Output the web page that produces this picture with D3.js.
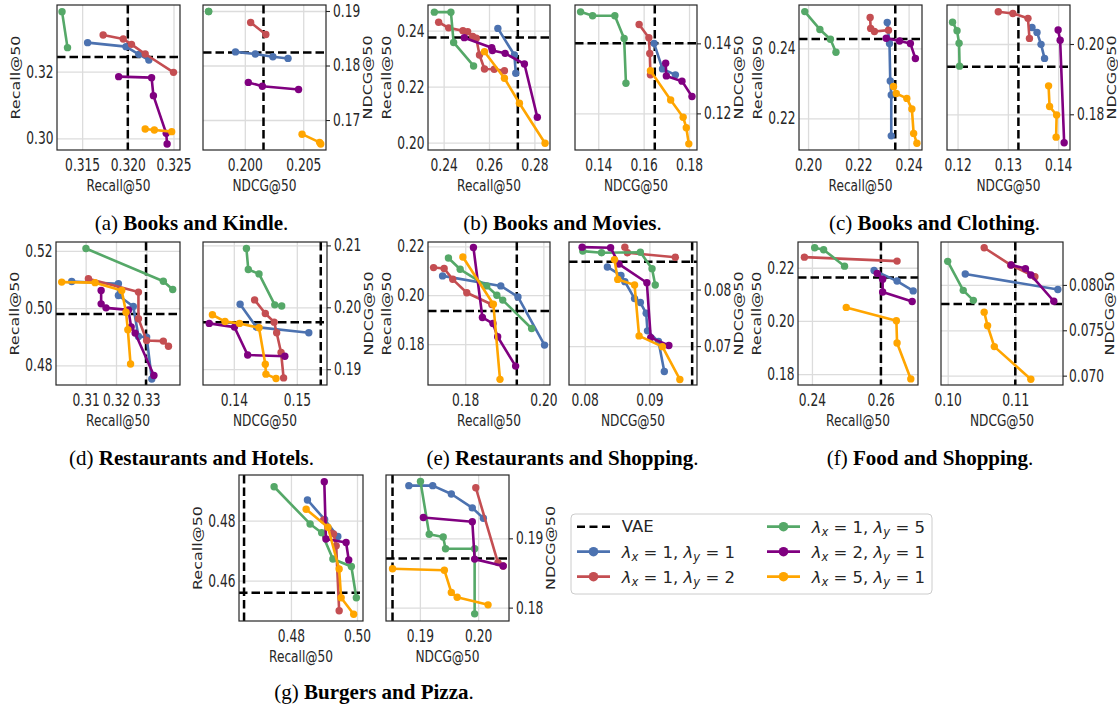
<!DOCTYPE html>
<html><head><meta charset="utf-8">
<script src="https://cdnjs.cloudflare.com/ajax/libs/d3/7.8.5/d3.min.js"></script>
<style>body{margin:0;background:#fff}svg{display:block}</style>
</head><body>
<svg id="c" width="1118" height="709"></svg>
<script>
// ---------------- DATA ----------------
const SERIES = [["1","1"],["1","2"],["1","5"],["2","1"],["5","1"]]; // [λx, λy]
const COLORS = ["#4C72B0","#C44E52","#55A868","#800080","#FFA500"];
// each panel: [blue(1,1), red(1,2), green(1,5), purple(2,1), orange(5,1)] as [x,y]
const A_REC = [
 [[0.3156,0.3287],[0.3198,0.3275],[0.3212,0.3252],[0.3223,0.3235]],
 [[0.3173,0.3310],[0.3195,0.3298],[0.3204,0.3282],[0.3219,0.3253],[0.3250,0.3198]],
 [[0.3128,0.3380],[0.3134,0.3272]],
 [[0.3190,0.3185],[0.3226,0.3182],[0.3228,0.3128],[0.3242,0.3015],[0.3243,0.2983]],
 [[0.3219,0.3028],[0.3229,0.3025],[0.3248,0.3020]]];
const A_NDCG = [
 [[0.1992,0.1825],[0.2009,0.1821],[0.2024,0.1816],[0.2037,0.1813]],
 [[0.2005,0.1879],[0.2018,0.1857]],
 [[0.1969,0.1899],[0.1969,0.1899]],
 [[0.2003,0.1769],[0.2015,0.1762],[0.2046,0.1756]],
 [[0.2049,0.1674],[0.2064,0.1659],[0.2065,0.1656]]];
const B_REC = [
 [[0.2639,0.2408],[0.2712,0.2313],[0.2718,0.2248]],
 [[0.2378,0.2430],[0.2422,0.2410],[0.2485,0.2400],[0.2506,0.2396],[0.2528,0.2379],[0.2544,0.2373],[0.2558,0.2313],[0.2580,0.2263],[0.2623,0.2262],[0.2668,0.2257]],
 [[0.2359,0.2466],[0.2432,0.2466],[0.2444,0.2358],[0.2532,0.2274]],
 [[0.2491,0.2375],[0.2612,0.2339],[0.2615,0.2329],[0.2671,0.2319],[0.2756,0.2281],[0.2813,0.2091]],
 [[0.2580,0.2325],[0.2668,0.2230],[0.2734,0.2141],[0.2847,0.1998]]];
const B_NDCG = [
 [[0.1646,0.1400],[0.1683,0.1327],[0.1740,0.1310]],
 [[0.1580,0.1454],[0.1623,0.1416],[0.1627,0.1371],[0.1630,0.1310]],
 [[0.1322,0.1490],[0.1375,0.1479],[0.1473,0.1479],[0.1514,0.1414],[0.1522,0.1286]],
 [[0.1697,0.1343],[0.1700,0.1307],[0.1769,0.1292],[0.1813,0.1248]],
 [[0.1630,0.1322],[0.1719,0.1238],[0.1774,0.1189],[0.1788,0.1159],[0.1799,0.1113]]];
const C_REC = [
 [[0.2315,0.2474],[0.2324,0.2414],[0.2327,0.2307],[0.2331,0.2267],[0.2331,0.2150]],
 [[0.2247,0.2488],[0.2249,0.2457],[0.2264,0.2448],[0.2320,0.2452]],
 [[0.1987,0.2505],[0.2047,0.2454],[0.2089,0.2426],[0.2111,0.2389]],
 [[0.2311,0.2429],[0.2364,0.2421],[0.2407,0.2414],[0.2427,0.2371]],
 [[0.2340,0.2291],[0.2351,0.2271],[0.2393,0.2257],[0.2413,0.2227],[0.2420,0.2157],[0.2433,0.2129]]];
const C_NDCG = [
 [[0.1348,0.2047],[0.1358,0.2033],[0.1366,0.1999],[0.1373,0.1959]],
 [[0.1281,0.2092],[0.1310,0.2087],[0.1340,0.2073],[0.1343,0.2016]],
 [[0.1190,0.2062],[0.1199,0.2038],[0.1203,0.2002],[0.1204,0.1937]],
 [[0.1400,0.2040],[0.1404,0.2011],[0.1412,0.1719]],
 [[0.1381,0.1881],[0.1383,0.1822],[0.1397,0.1798],[0.1396,0.1735]]];
const D_REC = [
 [[0.3054,0.5093],[0.3208,0.5085],[0.3208,0.5044],[0.3257,0.5006],[0.3274,0.4901],[0.3301,0.4899],[0.3318,0.4753]],
 [[0.3109,0.5103],[0.3274,0.5056],[0.3274,0.4963],[0.3301,0.4887],[0.3356,0.4885],[0.3373,0.4867]],
 [[0.3101,0.5208],[0.3356,0.5094],[0.3387,0.5065]],
 [[0.3151,0.5062],[0.3151,0.5015],[0.3167,0.5001],[0.3241,0.4994],[0.3250,0.4934],[0.3263,0.4913],[0.3325,0.4765]],
 [[0.3021,0.5091],[0.3131,0.5089],[0.3219,0.5062],[0.3233,0.4986],[0.3239,0.4925],[0.3248,0.4805]]];
const D_NDCG = [
 [[0.1410,0.2005],[0.1436,0.1968],[0.1519,0.1959]],
 [[0.1433,0.2012],[0.1450,0.1990],[0.1464,0.1976],[0.1468,0.1959],[0.1475,0.1927],[0.1479,0.1886]],
 [[0.1420,0.2095],[0.1423,0.2061],[0.1440,0.2054],[0.1465,0.2004],[0.1476,0.2002]],
 [[0.1361,0.1974],[0.1401,0.1968],[0.1422,0.1923],[0.1481,0.1921]],
 [[0.1366,0.1988],[0.1386,0.1977],[0.1409,0.1974],[0.1440,0.1967],[0.1450,0.1908],[0.1451,0.1892],[0.1467,0.1885]]];
const E_REC = [
 [[0.1742,0.2079],[0.1891,0.2038],[0.1935,0.1993],[0.2003,0.1796]],
 [[0.1719,0.2113],[0.1746,0.2109],[0.1768,0.2065],[0.1804,0.2010],[0.1868,0.1962]],
 [[0.1757,0.2152],[0.1787,0.2106],[0.1855,0.2038],[0.1881,0.2000],[0.1896,0.1980],[0.1970,0.1864]],
 [[0.1821,0.2195],[0.1844,0.1909],[0.1871,0.1884],[0.1883,0.1830],[0.1929,0.1710]],
 [[0.1794,0.2156],[0.1872,0.1963],[0.1889,0.1656]]];
const E_NDCG = [
 [[0.0835,0.0840],[0.0856,0.0825],[0.0862,0.0814],[0.0877,0.0784],[0.0886,0.0777],[0.0895,0.0758],[0.0897,0.0727],[0.0914,0.0708],[0.0923,0.0655]],
 [[0.0862,0.0875],[0.0866,0.0865],[0.0940,0.0857]],
 [[0.0797,0.0868],[0.0826,0.0865],[0.0886,0.0866],[0.0904,0.0837],[0.0909,0.0808]],
 [[0.0796,0.0875],[0.0840,0.0874],[0.0853,0.0845],[0.0896,0.0812],[0.0902,0.0715],[0.0930,0.0701]],
 [[0.0846,0.0853],[0.0851,0.0818],[0.0877,0.0808],[0.0884,0.0718],[0.0920,0.0699],[0.0947,0.0641]]];
const F_REC = [
 [[0.2581,0.2190],[0.2648,0.2150],[0.2695,0.2113]],
 [[0.2378,0.2240],[0.2648,0.2225]],
 [[0.2408,0.2275],[0.2434,0.2268],[0.2495,0.2206]],
 [[0.2590,0.2179],[0.2606,0.2157],[0.2606,0.2109],[0.2692,0.2073]],
 [[0.2500,0.2051],[0.2646,0.2001],[0.2648,0.1917],[0.2688,0.1782]]];
const F_NDCG = [
 [[0.1026,0.0812],[0.1163,0.0795]],
 [[0.1054,0.0841],[0.1093,0.0822],[0.1129,0.0809]],
 [[0.1000,0.0826],[0.1023,0.0794],[0.1038,0.0783]],
 [[0.1094,0.0822],[0.1115,0.0818],[0.1123,0.0811],[0.1157,0.0782]],
 [[0.1054,0.0770],[0.1059,0.0755],[0.1069,0.0732],[0.1123,0.0696]]];
const G_REC = [
 [[0.4850,0.4869],[0.4902,0.4804],[0.4942,0.4747]],
 [[0.4899,0.4802],[0.4929,0.4756],[0.4937,0.4716],[0.4946,0.4500]],
 [[0.4749,0.4913],[0.4858,0.4789],[0.4893,0.4760],[0.4927,0.4672],[0.4983,0.4647],[0.4998,0.4543]],
 [[0.4901,0.4930],[0.4906,0.4739],[0.4967,0.4727],[0.4975,0.4669]],
 [[0.4846,0.4838],[0.4912,0.4778],[0.4946,0.4639],[0.4952,0.4543],[0.4990,0.4488]]];
const G_NDCG = [
 [[0.1881,0.1976],[0.1922,0.1976],[0.1954,0.1964],[0.1990,0.1944],[0.2009,0.1929]],
 [[0.1996,0.1973],[0.2034,0.1865],[0.2043,0.1860]],
 [[0.1901,0.1982],[0.1916,0.1906],[0.1940,0.1902],[0.1944,0.1885],[0.1994,0.1885],[0.1994,0.1791]],
 [[0.1906,0.1930],[0.1990,0.1924],[0.1994,0.1870],[0.2043,0.1860]],
 [[0.1853,0.1856],[0.1942,0.1854],[0.1954,0.1822],[0.1964,0.1815],[0.2017,0.1804]]];
// VAE baseline [x, y] per panel
const VAE = {A_REC:[0.3200,0.3244],A_NDCG:[0.2016,0.1824],B_REC:[0.2727,0.2376],B_NDCG:[0.1649,0.1400],
 C_REC:[0.2347,0.2427],C_NDCG:[0.1321,0.1935],D_REC:[0.3299,0.4980],D_NDCG:[0.1538,0.1976],
 E_REC:[0.1932,0.1935],E_NDCG:[0.0966,0.0849],F_REC:[0.2601,0.2163],F_NDCG:[0.1100,0.0779],
 G_REC:[0.4658,0.4560],G_NDCG:[0.1853,0.1871]};
// axis ranges [[x0,x1],[y0,y1]]
const DOMAINS = {A_REC:[[0.31225,0.32571],[0.2965,0.3400]],A_NDCG:[[0.19642,0.20695],[0.1645,0.1911]],
 B_REC:[[0.23311,0.28688],[0.1974,0.24916]],B_NDCG:[[0.12975,0.18351],[0.10954,0.15095]],
 C_REC:[[0.1964,0.24533],[0.21096,0.25238]],C_NDCG:[[0.1179,0.14236],[0.16984,0.2111]],
 D_REC:[[0.30022,0.3411],[0.47318,0.52309]],D_NDCG:[[0.13511,0.15479],[0.18745,0.21055]],
 E_REC:[[0.17047,0.2017],[0.16328,0.22176]],E_NDCG:[[0.07757,0.09735],[0.06312,0.08841]],
 F_REC:[[0.23594,0.2709],[0.17591,0.22969]],F_NDCG:[[0.09901,0.11706],[0.06897,0.08473]],
 G_REC:[[0.46427,0.50182],[0.44656,0.49522]],G_NDCG:[[0.18418,0.2053],[0.17807,0.19914]]};
// tick labels [x ticks, y ticks]
const TICKS = {A_REC:[["0.315","0.320","0.325"],["0.30","0.32"]],A_NDCG:[["0.200","0.205"],["0.17","0.18","0.19"]],
 B_REC:[["0.24","0.26","0.28"],["0.20","0.22","0.24"]],B_NDCG:[["0.14","0.16","0.18"],["0.12","0.14"]],
 C_REC:[["0.20","0.22","0.24"],["0.22","0.24"]],C_NDCG:[["0.12","0.13","0.14"],["0.18","0.20"]],
 D_REC:[["0.31","0.32","0.33"],["0.48","0.50","0.52"]],D_NDCG:[["0.14","0.15"],["0.19","0.20","0.21"]],
 E_REC:[["0.18","0.20"],["0.18","0.20","0.22"]],E_NDCG:[["0.08","0.09"],["0.07","0.08"]],
 F_REC:[["0.24","0.26"],["0.18","0.20","0.22"]],F_NDCG:[["0.10","0.11"],["0.070","0.075","0.080"]],
 G_REC:[["0.48","0.50"],["0.46","0.48"]],G_NDCG:[["0.19","0.20"],["0.18","0.19"]]};
const CAPTIONS = [["(a) ","Books and Kindle"],["(b) ","Books and Movies"],["(c) ","Books and Clothing"],
 ["(d) ","Restaurants and Hotels"],["(e) ","Restaurants and Shopping"],["(f) ","Food and Shopping"],["(g) ","Burgers and Pizza"]];

// ---------------- LAYOUT ----------------
const svg = d3.select("#c");
const SXT = 0.72;            // horizontal condensing of tick text
const SXL = 0.76;            // horizontal condensing of axis-label text
const TF = "DejaVu Sans";
const TFS = 17;
const panels = [
 {k:"A_REC",d:A_REC,box:[57,5,180,150],right:false},{k:"A_NDCG",d:A_NDCG,box:[203,5,326,150],right:true},
 {k:"B_REC",d:B_REC,box:[428,5,550,150],right:false},{k:"B_NDCG",d:B_NDCG,box:[575,5,697,150],right:true},
 {k:"C_REC",d:C_REC,box:[799,5,922,150],right:false},{k:"C_NDCG",d:C_NDCG,box:[947,5,1070,150],right:true},
 {k:"D_REC",d:D_REC,box:[56,242,180,385],right:false},{k:"D_NDCG",d:D_NDCG,box:[203,242,327,385],right:true},
 {k:"E_REC",d:E_REC,box:[428,242,550,385],right:false},{k:"E_NDCG",d:E_NDCG,box:[569,242,697,385],right:true},
 {k:"F_REC",d:F_REC,box:[798,242,918,385],right:false},{k:"F_NDCG",d:F_NDCG,box:[941,242,1063,385],right:true},
 {k:"G_REC",d:G_REC,box:[239,475,363,621],right:false},{k:"G_NDCG",d:G_NDCG,box:[386,475,509,621],right:true}];

function condensedText(g, x, y, txt, opts){
  return g.append("text").attr("transform",`translate(${x},${y}) scale(${SXL},1)${opts.rot?" rotate(-90)":""}`)
    .attr("text-anchor","middle").attr("dominant-baseline","central")
    .attr("font-family",TF).attr("font-size",opts.size||16).attr("fill","#262626").text(txt);
}

panels.forEach(p=>{
  const [x0,y0,x1,y1] = p.box;
  const dom = DOMAINS[p.k], tk = TICKS[p.k], vae = VAE[p.k];
  const x = d3.scaleLinear().domain(dom[0]).range([x0,x1]);
  const y = d3.scaleLinear().domain(dom[1]).range([y1,y0]);
  const xv = tk[0].map(Number), yv = tk[1].map(Number);
  const wide = tk[1][0].length>4;
  const g = svg.append("g");
  const cid = "clip_"+p.k;
  g.append("clipPath").attr("id",cid).append("rect").attr("x",x0).attr("y",y0).attr("width",x1-x0).attr("height",y1-y0);
  // grid
  const gx = g.append("g").attr("transform",`translate(0,${y1})`)
    .call(d3.axisBottom(x).tickValues(xv).tickSize(-(y1-y0)).tickFormat(""));
  const gy = g.append("g").attr("transform",`translate(${x0},0)`)
    .call(d3.axisLeft(y).tickValues(yv).tickSize(-(x1-x0)).tickFormat(""));
  [gx,gy].forEach(a=>{a.select(".domain").remove(); a.selectAll("line").attr("stroke","#dcdcdc").attr("stroke-width",1.3);});
  // tick labels
  const bx = g.append("g").attr("transform",`translate(0,${y1})`)
    .call(d3.axisBottom(x).tickValues(xv).tickFormat((d,i)=>tk[0][i]).tickSize(0).tickPadding(8.5));
  bx.select(".domain").remove();
  bx.selectAll("text").attr("transform",`scale(${SXT},1)`).attr("font-family",TF).attr("font-size",TFS).attr("fill","#262626");
  if(!p.right){
    const ly = g.append("g").attr("transform",`translate(${x0},0)`)
      .call(d3.axisLeft(y).tickValues(yv).tickFormat((d,i)=>tk[1][i]).tickSize(0));
    ly.select(".domain").remove();
    ly.selectAll("text").attr("x",-3.5/SXT).attr("transform",`scale(${SXT},1)`).attr("font-family",TF).attr("font-size",TFS).attr("fill","#262626");
  } else {
    const ry = g.append("g").attr("transform",`translate(${x1},0)`)
      .call(d3.axisRight(y).tickValues(yv).tickFormat((d,i)=>tk[1][i]).tickSizeInner(4).tickSizeOuter(0));
    ry.select(".domain").remove();
    ry.selectAll("line").attr("stroke","#262626").attr("stroke-width",1.1);
    ry.selectAll("text").attr("x",(wide?6:7)/SXT).attr("transform",`scale(${SXT},1)`).attr("font-family",TF).attr("font-size",TFS).attr("fill","#262626");
  }
  // axis labels
  const lab = p.right ? "NDCG@50" : "Recall@50";
  condensedText(g,(x0+x1)/2,y1+35,lab,{size:16});
  condensedText(g, p.right ? x1+(wide?46.5:41.5) : x0-41, (y0+y1)/2, lab, {size:16, rot:true});
  // data area
  const da = g.append("g").attr("clip-path",`url(#${cid})`);
  da.append("line").attr("x1",x(vae[0])).attr("x2",x(vae[0])).attr("y1",y0).attr("y2",y1)
    .attr("stroke","#000").attr("stroke-width",2.5).attr("stroke-dasharray","8.5,4");
  da.append("line").attr("x1",x0).attr("x2",x1).attr("y1",y(vae[1])).attr("y2",y(vae[1]))
    .attr("stroke","#000").attr("stroke-width",2.5).attr("stroke-dasharray","8.5,4");
  const line = d3.line().x(d=>x(d[0])).y(d=>y(d[1]));
  p.d.forEach((s,i)=>{
    da.append("path").attr("d",line(s)).attr("fill","none").attr("stroke",COLORS[i]).attr("stroke-width",2.6).attr("stroke-linejoin","round");
    da.selectAll(null).data(s).join("circle").attr("cx",d=>x(d[0])).attr("cy",d=>y(d[1])).attr("r",3.7).attr("fill",COLORS[i]);
  });
  // frame
  g.append("rect").attr("x",x0).attr("y",y0).attr("width",x1-x0).attr("height",y1-y0)
    .attr("fill","none").attr("stroke","#262626").attr("stroke-width",1.2);
});

// captions
const capPos = [[191.5,230],[562.5,230],[934.5,230],[191.5,465],[562.5,465],[930,465],[374,699]];
CAPTIONS.forEach((c,i)=>{
  const t = svg.append("text").attr("x",capPos[i][0]).attr("y",capPos[i][1]).attr("text-anchor","middle")
    .attr("font-family","Liberation Serif, serif").attr("font-size",21).attr("fill","#000");
  t.append("tspan").text(c[0]);
  t.append("tspan").attr("font-weight","bold").text(c[1]);
  t.append("tspan").text(".");
});

// legend
const lg = svg.append("g");
lg.append("rect").attr("x",571).attr("y",514).attr("width",361).attr("height",80).attr("rx",4)
  .attr("fill","#fff").attr("stroke","#cccccc").attr("stroke-width",1);
const entries = [{vae:true},{s:0},{s:1},{s:2},{s:3},{s:4}];
entries.forEach((e,i)=>{
  const col = Math.floor(i/3), row = i%3;
  const hx = col===0?577:767, ty = 526.7+row*25, tx = col===0?621.7:811.7;
  if(e.vae){
    lg.append("line").attr("x1",hx).attr("x2",hx+33).attr("y1",ty).attr("y2",ty)
      .attr("stroke","#000").attr("stroke-width",2.5).attr("stroke-dasharray","8,4.5");
    lg.append("text").attr("x",tx).attr("y",ty).attr("dominant-baseline","central")
      .attr("font-family",TF).attr("font-size",16.5).attr("fill","#262626").text("VAE");
  } else {
    const c = COLORS[e.s];
    lg.append("line").attr("x1",hx).attr("x2",hx+33).attr("y1",ty).attr("y2",ty).attr("stroke",c).attr("stroke-width",2.7);
    lg.append("circle").attr("cx",hx+16.5).attr("cy",ty).attr("r",4.8).attr("fill",c);
    const t = lg.append("text").attr("x",tx).attr("y",ty+6).attr("font-family",TF).attr("font-size",16.5).attr("fill","#262626");
    const [a,b] = SERIES[e.s];
    t.append("tspan").attr("font-style","italic").text("λ");
    t.append("tspan").attr("font-style","italic").attr("font-size",11.5).attr("dy",3.5).text("x");
    t.append("tspan").attr("dy",-3.5).text(" = "+a+", ");
    t.append("tspan").attr("font-style","italic").text("λ");
    t.append("tspan").attr("font-style","italic").attr("font-size",11.5).attr("dy",3.5).text("y");
    t.append("tspan").attr("dy",-3.5).text(" = "+b);
  }
});
</script>
</body></html>
